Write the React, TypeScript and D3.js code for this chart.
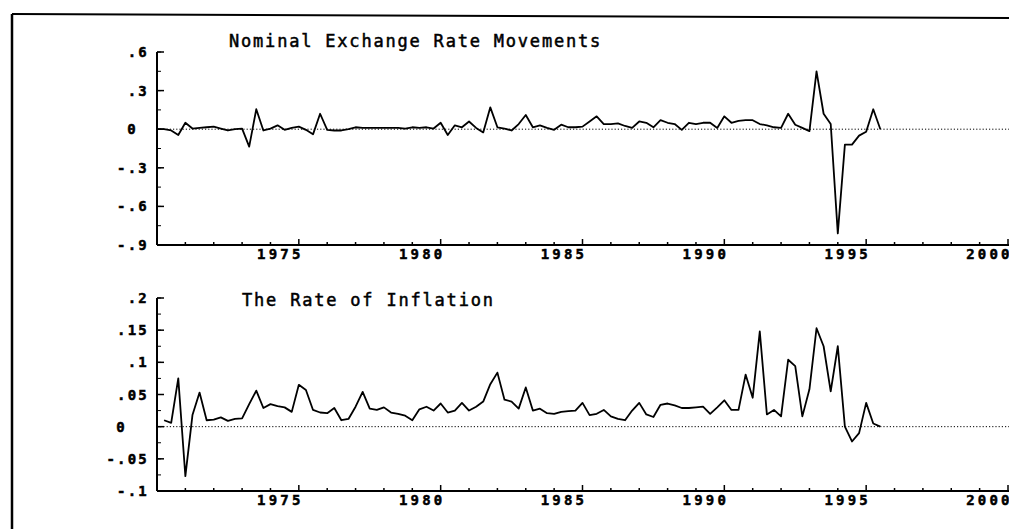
import React from "react";
import * as d3 from "d3";

// ---- Data (quarterly observations) ----
const exchangeStart = 1970.0;
const exchangeRate = [
  0, 0, -0.01, -0.045, 0.05, 0.005, 0.01, 0.015, 0.02, 0.005,
  -0.01, 0, 0.005, -0.135, 0.155, -0.01, 0.005, 0.03, -0.005, 0.01,
  0.02, -0.005, -0.04, 0.12, -0.005, -0.01, -0.01, 0, 0.015, 0.01,
  0.01, 0.01, 0.01, 0.01, 0.01, 0.005, 0.015, 0.01, 0.015, 0.005,
  0.05, -0.045, 0.03, 0.015, 0.06, 0.01, -0.025, 0.17, 0.015, 0.005,
  -0.01, 0.04, 0.11, 0.015, 0.03, 0.01, -0.005, 0.035, 0.015, 0.015,
  0.02, 0.06, 0.1, 0.04, 0.04, 0.045, 0.025, 0.01, 0.06, 0.05,
  0.015, 0.07, 0.05, 0.04, -0.005, 0.05, 0.04, 0.05, 0.05, 0.01,
  0.1, 0.05, 0.065, 0.07, 0.07, 0.04, 0.03, 0.015, 0.01, 0.12,
  0.035, 0.01, -0.015, 0.45, 0.12, 0.04, -0.81, -0.12, -0.12, -0.05,
  -0.02, 0.155, 0,
];

const inflationStart = 1970.25;
const inflation = [
  0.01, 0.006, 0.075, -0.077, 0.018, 0.053, 0.01, 0.011, 0.0145,
  0.009, 0.012, 0.013, 0.035, 0.056, 0.029, 0.035, 0.032, 0.03, 0.023,
  0.065, 0.057, 0.026, 0.022, 0.021, 0.029, 0.01, 0.012, 0.031, 0.054,
  0.028, 0.026, 0.03, 0.022, 0.02, 0.017, 0.01, 0.027, 0.031, 0.025,
  0.036, 0.022, 0.025, 0.037, 0.025, 0.031, 0.039, 0.066, 0.084, 0.042,
  0.039, 0.028, 0.061, 0.025, 0.028, 0.021, 0.02, 0.023, 0.024, 0.025,
  0.037, 0.018, 0.02, 0.026, 0.016, 0.012, 0.01, 0.025, 0.037, 0.019,
  0.015, 0.034, 0.036, 0.033, 0.029, 0.029, 0.03, 0.031, 0.02, 0.03,
  0.041, 0.026, 0.026, 0.081, 0.045, 0.148, 0.019, 0.026, 0.016, 0.104,
  0.094, 0.016, 0.058, 0.153, 0.125, 0.055, 0.125, 0.0, -0.023, -0.01,
  0.037, 0.005, 0,
];

const yearTicks = [1975, 1980, 1985, 1990, 1995, 2000];
const yearLabels = ["1975", "1980", "1985", "1990", "1995", "2000"];

const topTickValues = [0.6, 0.3, 0, -0.3, -0.6, -0.9];
const topTickLabels = [".6", ".3", "0", "-.3", "-.6", "-.9"];
const bottomTickValues = [0.2, 0.15, 0.1, 0.05, 0, -0.05, -0.1];
const bottomTickLabels = [".2", ".15", ".1", ".05", "0", "-.05", "-.1"];

const topTitle = "Nominal Exchange Rate Movements";
const bottomTitle = "The Rate of Inflation";

// ---- Layout ----
const W = 1009;
const H = 529;
const X0 = 157;
const X1 = 1008;

const FONT = "'DejaVu Sans Mono', 'Liberation Mono', monospace";

type PanelProps = {
  values: number[];
  start: number;
  domain: [number, number];
  top: number;
  bottom: number;
  tickValues: number[];
  tickLabels: string[];
  minorStep: number;
  zeroLabelShift: number;
  title: string;
  titleX: number;
  titleY: number;
};

function Panel(p: PanelProps) {
  const x = d3.scaleLinear().domain([1970, 2000]).range([X0, X1]);
  const y = d3.scaleLinear().domain(p.domain).range([p.bottom, p.top]);
  const pts = p.values.map((v, i) => [p.start + i * 0.25, v] as [number, number]);
  const line = d3
    .line<[number, number]>()
    .x((d) => x(d[0]))
    .y((d) => y(d[1]));
  const minor = d3.range(p.domain[0], p.domain[1] + 1e-9, p.minorStep);
  const yearMinor = d3.range(1971, 2001, 1);
  return (
    <g>
      <text
        x={p.titleX}
        y={p.titleY}
        fontFamily={FONT}
        fontSize={17}
        letterSpacing={1.8}
        fill="#000"
        stroke="#000"
        strokeWidth={0.5}
      >
        {p.title}
      </text>
      {/* zero dotted line */}
      <line
        x1={X0}
        x2={W}
        y1={y(0)}
        y2={y(0)}
        stroke="#000"
        strokeWidth={1}
        strokeDasharray="1.2,2"
      />
      {/* y axis */}
      <line x1={X0} x2={X0} y1={p.top} y2={p.bottom} stroke="#000" strokeWidth={2} />
      {minor.map((v, i) => (
        <line key={"ym" + i} x1={X0} x2={X0 + 4} y1={y(v)} y2={y(v)} stroke="#000" strokeWidth={1} />
      ))}
      {p.tickValues.map((v, i) => (
        <line key={"yM" + i} x1={X0} x2={X0 + 7} y1={y(v)} y2={y(v)} stroke="#000" strokeWidth={1.5} />
      ))}
      {p.tickValues.map((v, i) => (
        <text
          key={"yl" + i}
          x={149 - (v === 0 ? p.zeroLabelShift : 0)}
          y={y(v)}
          dy="0.36em"
          textAnchor="end"
          fontFamily={FONT}
          fontWeight="bold"
          fontSize={14}
          letterSpacing={2.2}
          fill="#000"
          stroke="#000"
          strokeWidth={0.5}
        >
          {p.tickLabels[i]}
        </text>
      ))}
      {/* x axis */}
      <line x1={X0} x2={W} y1={p.bottom} y2={p.bottom} stroke="#000" strokeWidth={2} />
      {yearMinor.map((yr) => (
        <line
          key={"xm" + yr}
          x1={x(yr)}
          x2={x(yr)}
          y1={p.bottom}
          y2={p.bottom - (yr % 5 === 0 ? 6 : 3)}
          stroke="#000"
          strokeWidth={1.5}
        />
      ))}
      {yearTicks.map((yr, i) => (
        <text
          key={"xl" + yr}
          x={x(yr) - 18.5}
          y={p.bottom + 14}
          textAnchor="middle"
          fontFamily={FONT}
          fontWeight="bold"
          fontSize={14}
          letterSpacing={3.2}
          fill="#000"
          stroke="#000"
          strokeWidth={0.5}
        >
          {yearLabels[i]}
        </text>
      ))}
      {/* series */}
      <path d={line(pts) || ""} fill="none" stroke="#000" strokeWidth={1.8} strokeLinejoin="round" />
    </g>
  );
}

export default function App() {
  return (
    <div style={{ position: "absolute", left: 0, top: 0, width: W, height: H, background: "#fff" }}>
      <svg width={W} height={H} viewBox={`0 0 ${W} ${H}`}>
        <rect x={0} y={0} width={W} height={H} fill="#fff" />
        {/* outer frame */}
        <line x1={12} y1={14} x2={W} y2={18} stroke="#000" strokeWidth={2} />
        <line x1={12} y1={14} x2={12} y2={H} stroke="#000" strokeWidth={2.5} />
        <Panel
          values={exchangeRate}
          start={exchangeStart}
          domain={[-0.9, 0.6]}
          top={52}
          bottom={245}
          tickValues={topTickValues}
          tickLabels={topTickLabels}
          minorStep={0.15}
          zeroLabelShift={11}
          title={topTitle}
          titleX={229}
          titleY={47}
        />
        <Panel
          values={inflation}
          start={inflationStart}
          domain={[-0.1, 0.2]}
          top={298}
          bottom={491}
          tickValues={bottomTickValues}
          tickLabels={bottomTickLabels}
          minorStep={0.025}
          zeroLabelShift={22}
          title={bottomTitle}
          titleX={242}
          titleY={306}
        />
      </svg>
    </div>
  );
}
